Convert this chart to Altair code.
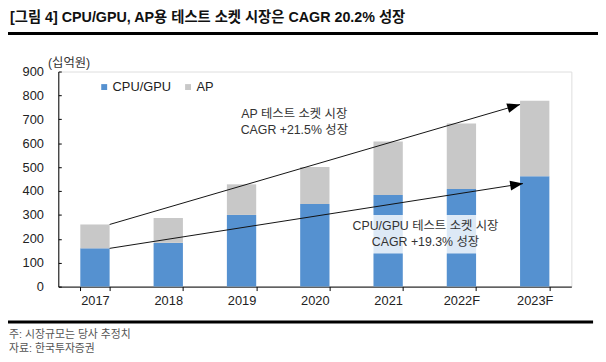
import math
import altair as alt
import pandas as pd

# ---------------- data ----------------
years = ["2017", "2018", "2019", "2020", "2021", "2022F", "2023F"]
series = ["CPU/GPU", "AP"]
cpu_gpu = [160, 183, 300, 346, 383, 408, 462]
ap = [100, 104, 128, 154, 224, 274, 316]

# trend arrows (x in category index units, y in 십억원)
arrow_name = ["AP", "CPU/GPU"]
arrow_x0 = [0.2, 0.2]
arrow_y0 = [260, 160]
arrow_x1 = [5.8, 5.84]
arrow_y1 = [762, 431]

# annotation texts
note_text = ["AP 테스트 소켓 시장", "CAGR +21.5% 성장",
             "CPU/GPU 테스트 소켓 시장", "CAGR +19.3% 성장"]
note_x = [2.72, 2.72, 4.51, 4.51]
note_y = [723, 655, 252, 185]

# translucent box behind the CPU/GPU note
box_x = [3.5, 5.57]
box_y = [139, 300]

title_text = "[그림 4] CPU/GPU, AP용 테스트 소켓 시장은 CAGR 20.2% 성장"
unit_text = "(십억원)"
foot_text = ["주: 시장규모는 당사 추정치", "자료: 한국투자증권"]

# ---------------- layout / style ----------------
W, H = 520, 218
FONT = "Liberation Sans, Noto Sans CJK KR, sans-serif"
TFONT = "Liberation Sans, Noto Sans CJK KR, sans-serif"
BLUE, GRAY = "#5591D0", "#C8C8C8"

rows = []
for i, y in enumerate(years):
    rows.append({"year": y, "series": "CPU/GPU", "value": cpu_gpu[i], "order": 0})
    rows.append({"year": y, "series": "AP", "value": ap[i], "order": 1})
df = pd.DataFrame(rows)

yscale = alt.Scale(domain=[0, 900], nice=False, zero=True)
xq = alt.Scale(domain=[-0.5, 6.5], nice=False, zero=False)

yaxis = alt.Axis(
    values=list(range(0, 1000, 100)), grid=False, title=unit_text,
    titleAngle=0, titleAlign="left", titleBaseline="middle",
    titleX=-11, titleY=-9, titleFontWeight="normal", titleFontSize=12.5,
    titleFont=FONT, titleColor="#333",
    labelFontSize=13, labelFont=FONT, labelColor="#222", labelPadding=18,
    tickSize=alt.ExprRef(expr="-3"), tickColor="black", domainColor="black",
)

bars = alt.Chart(df).mark_bar().encode(
    x=alt.X("year:N", sort=years,
            scale=alt.Scale(paddingInner=0.6, paddingOuter=0.3),
            axis=alt.Axis(title=None, labelAngle=0, tickBand="extent",
                          labelFontSize=13, labelFont=FONT, labelColor="#222",
                          labelPadding=4, tickSize=4, tickColor="black",
                          domainColor="black")),
    y=alt.Y("value:Q", stack="zero", scale=yscale, axis=yaxis),
    color=alt.Color("series:N", sort=series,
                    scale=alt.Scale(domain=series, range=[BLUE, GRAY]),
                    legend=alt.Legend(orient="none", legendX=40, legendY=9,
                                      direction="horizontal", title=None,
                                      symbolType="square", symbolSize=36,
                                      symbolStrokeWidth=0, labelFontSize=13,
                                      labelFont=FONT, labelColor="#222",
                                      columnPadding=10, labelOffset=2,
                                      padding=0)),
    order=alt.Order("order:Q"),
)

box_df = pd.DataFrame({"x0": [box_x[0]], "x1": [box_x[1]],
                       "value": [box_y[0]], "y1": [box_y[1]]})
box = alt.Chart(box_df).mark_rect(color="white", opacity=0.8).encode(
    x=alt.X("x0:Q", scale=xq, axis=None), x2="x1:Q",
    y=alt.Y("value:Q", scale=yscale, axis=yaxis), y2="y1:Q",
)

notes_df = pd.DataFrame({"t": note_text, "x": note_x, "value": note_y})
notes = alt.Chart(notes_df).mark_text(
    font=FONT, fontSize=12.5, color="#333", align="center", baseline="middle"
).encode(
    x=alt.X("x:Q", scale=xq, axis=None),
    y=alt.Y("value:Q", scale=yscale, axis=yaxis),
    text="t:N",
)

arr_df = pd.DataFrame({"name": arrow_name, "x0": arrow_x0, "value": arrow_y0,
                       "x1": arrow_x1, "y1": arrow_y1})
px_x, px_y = W / 7.0, H / 900.0
arr_df["angle"] = [
    (-math.degrees(math.atan2((b1 - b0) * px_y, (a1 - a0) * px_x))) % 360
    for a0, b0, a1, b1 in zip(arrow_x0, arrow_y0, arrow_x1, arrow_y1)
]
head_df = pd.DataFrame({"x1": arrow_x1, "value": arrow_y1,
                        "angle": arr_df["angle"]})

lines = alt.Chart(arr_df).mark_rule(color="#111", strokeWidth=1).encode(
    x=alt.X("x0:Q", scale=xq, axis=None), x2="x1:Q",
    y=alt.Y("value:Q", scale=yscale, axis=yaxis), y2="y1:Q",
)
heads = alt.Chart(head_df).mark_point(
    shape="M0,0L-1,-0.38L-1,0.38Z", filled=True, color="#000",
    size=676, opacity=1, strokeWidth=0
).encode(
    x=alt.X("x1:Q", scale=xq, axis=None),
    y=alt.Y("value:Q", scale=yscale, axis=yaxis),
    angle=alt.Angle("angle:Q", scale=None),
)

one = alt.Data(values=[{"a": 1}])
top_rule = alt.Chart(one).mark_rule(color="black", strokeWidth=3).encode(
    x=alt.value(-51), x2=alt.value(547), y=alt.value(-38.5))
bot_rule = alt.Chart(one).mark_rule(color="black", strokeWidth=3).encode(
    x=alt.value(-51), x2=alt.value(542), y=alt.value(35.8 + H))

foot1 = alt.Chart(one).mark_text(
    font=FONT, fontSize=11, color="#555", align="left", baseline="middle"
).encode(x=alt.value(-50), y=alt.value(H + 49), text=alt.value(foot_text[0]))
foot2 = alt.Chart(one).mark_text(
    font=FONT, fontSize=11, color="#555", align="left", baseline="middle"
).encode(x=alt.value(-50), y=alt.value(H + 63), text=alt.value(foot_text[1]))

chart = alt.layer(
    bars, box, notes, lines, heads, top_rule, bot_rule, foot1, foot2
).resolve_scale(x="independent").properties(
    width=W, height=H,
    autosize=alt.AutoSizeParams(type="none"),
    padding={"left": 51, "top": 62, "right": 27, "bottom": 72},
    title=alt.TitleParams(title_text, anchor="start", frame="group",
                          font=TFONT, fontSize=14.5, fontWeight="bold",
                          color="#111", dx=-49, dy=-7, offset=0),
).configure_view(stroke=None).configure(background="white")

chart.save("out.html", embed_options={"renderer": "svg", "actions": False})
